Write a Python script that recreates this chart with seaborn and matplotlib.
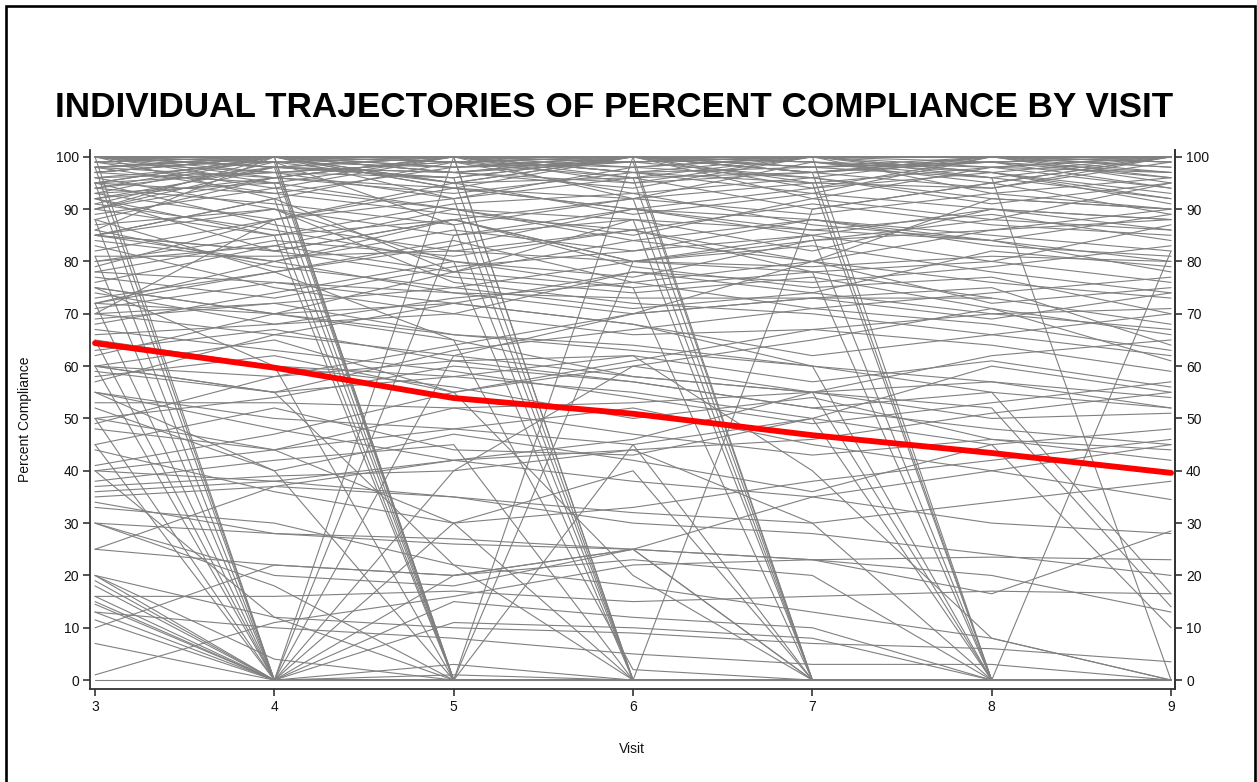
import numpy as np
import pandas as pd
import matplotlib
matplotlib.use("Agg")
import matplotlib.pyplot as plt
import seaborn as sns
from matplotlib.patches import Rectangle

nan = np.nan
visits = [3, 4, 5, 6, 7, 8, 9]

high_group = [
    [100, 100, 100, 100, 100, 100, 100],
    [99, 100, 98, 100, 97, 100, 99],
    [97, 100, 99, 98, 100, 96, 100],
    [100, 98, 100, 99, 96, 100, 95],
    [95, 100, 97, 100, 98, 99, 100],
    [98, 96, 100, 97, 100, 100, 98],
    [100, 99, 95, 100, 99, 97, 100],
    [93, 100, 100, 96, 100, 98, 97],
    [96, 97, 99, 100, 94, 100, 100],
    [100, 100, 98, 99, 100, 93, 96],
    [91, 99, 100, 95, 97, 100, 99],
    [99, 94, 100, 100, 98, 96, 92],
    [100, 97, 96, 100, 100, 99, 94],
    [94, 100, 92, 98, 100, 100, 97],
    [88, 96, 100, 97, 93, 100, 98],
    [97, 100, 94, 92, 99, 98, 100],
    [100, 92, 99, 100, 95, 94, 99],
    [92, 98, 97, 94, 100, 97, 93],
    [99, 100, 100, 98, 96, 92, 90],
    [86, 100, 95, 100, 97, 99, 100],
    [100, 100, 97, 95, 100, 100, 100],
    [98, 99, 100, 100, 99, 95, 89],
    [95, 93, 98, 99, 100, 100, 96],
    [100, 96, 93, 97, 98, 100, 100],
    [90, 100, 99, 93, 96, 91, 95],
    [97, 95, 100, 100, 92, 98, 94],
    [100, 100, 100, 99, 100, 97, 91],
    [94, 98, 96, 100, 100, 100, 99],
    [99, 97, 99, 96, 97, 94, 100],
    [100, 100, 94, 100, 98, 99, 97],
]

mid_high_group = [
    [90, 85, 88, 80, 84, 86, 88],
    [81, 81, 82, 80, 79, 81, 80],
    [85, 92, 78, 88, 82, 90, 86],
    [76, 83, 90, 85, 92, 88, 95],
    [88, 78, 84, 76, 80, 72, 75],
    [72, 80, 86, 82, 88, 85, 82],
    [83, 75, 70, 78, 74, 82, 79],
    [79, 88, 92, 96, 90, 95, 100],
    [95, 87, 82, 86, 78, 80, 76],
    [68, 74, 80, 77, 84, 88, 86],
    [87, 90, 76, 72, 70, 66, 62],
    [75, 70, 78, 84, 80, 76, 73],
    [92, 82, 88, 79, 75, 77, 70],
    [70, 72, 75, 71, 74, 70, 71],
    [84, 80, 74, 70, 73, 75, 64],
    [96, 90, 85, 88, 86, 84, 89],
    [78, 84, 81, 86, 80, 92, 90],
    [89, 94, 90, 84, 88, 83, 81],
    [73, 78, 83, 90, 94, 97, 92],
    [91, 86, 80, 75, 78, 73, 68],
    [82, 88, 94, 90, 86, 89, 84],
    [77, 73, 79, 82, 85, 80, 87],
    [94, 91, 87, 92, 89, 93, 90],
    [86, 79, 75, 80, 83, 78, 74],
    [71, 76, 72, 78, 76, 79, 83],
    [98, 93, 89, 86, 91, 87, 85],
    [80, 85, 91, 93, 87, 84, 78],
    [74, 68, 73, 76, 71, 74, 77],
    [93, 88, 95, 89, 93, 90, 88],
    [85, 82, 77, 74, 77, 71, 66],
    [78, 76, 74, 73, 73, 73, nan],
]

mid_group = [
    [66, 68, 70, 66, 67, 70, 67],
    [60, 58, 61, 62, 57, 61, 56],
    [53, 53, 52, 53, 55, 57, 54],
    [58, 62, 55, 60, 65, 71, 61],
    [50, 54, 60, 57, 52, 55, 52],
    [48, 44, 52, 47, 43, 46, 44],
    [62, 70, 65, 58, 55, 62, 65],
    [55, 48, 42, 46, 55, 50, 51],
    [45, 52, 44, 43, 50, 60, 55],
    [64, 60, 56, 50, 54, 46, 42],
    [57, 66, 72, 68, 62, 66, 70],
    [52, 40, 47, 42, 36, 45, 48],
    [69, 72, 66, 63, 60, 57, 52],
    [36, 38, 42, 44, 46, 51, 55],
    [41, 47, 55, 61, 67, 64, 59],
    [67, 63, 59, 54, 49, 53, 57],
    [44, 36, 30, 33, 38, 42, 46],
    [59, 55, 63, 67, 71, 68, 63],
    [63, 67, 61, 57, 52, 48, 45],
    [49, 58, 64, 70, 73, 69, 74],
    [40, 44, 48, 52, 45, 40, 34.5],
]

low_group = [
    [35, 37, 35, 30, 28, 24, 20],
    [34, 28, 27, 25, 23, 23.5, 23],
    [16, 16, 17, 15, 16, 17, 16.5],
    [25, 37, 42, 38, 35, 30, 28],
    [1, 11, 16, 22, 23, 16.5, 28.5],
    [0, 0, 0, 0, 0, 0, 0],
    [33, 30, 22, 18, 13, 8, 0],
    [37, 39, 40, 44, 30, 34, 38],
    [20, 12, 10, 9, 7, 6, 3.5],
    [13, 10, 8, 5, 3, 3, 0],
    [30, 20, 18, 25, 23, 20, 13],
    [10, 22, 20, 25, 35, 40, 45],
]

drop_group = [
    [20, 0, 0, 0, 0, 0, 0],
    [19, 0, 0, 0, 0, 0, 0],
    [18, 0, 11, 10, 8, 0, 0],
    [16, 0, 0, 0, 0, 0, 0],
    [15, 0, 0, 0, 0, 0, 0],
    [14.5, 0, 0, 0, 0, 0, 0],
    [13, 0, 3, 0, 0, 0, 0],
    [11.5, 0, 0, 0, 0, 0, 0],
    [7, 0, 1, 0, 0, 0, 0],
    [100, 0, 0, 0, 0, 0, 0],
    [95, 0, 20, 25, 0, 0, 0],
    [88, 0, 40, 60, 55, 0, 0],
    [72, 0, 100, 92, 95, 98, 100],
    [65, 0, 62, 70, 80, 86, 90],
    [50, 0, 0, 0, 0, 0, 0],
    [45, 0, 15, 12, 10, 0, 0],
    [98, 0, 85, 90, 88, 84, 80],
    [81, 0, 0, 0, 0, 0, 0],
    [60, 0, 30, 40, 0, 0, 0],
    [96, 99, 0, 0, 0, 0, 0],
    [100, 95, 0, 0, 0, 0, 0],
    [90, 98, 0, 100, 97, 99, 96],
    [85, 92, 0, 0, 0, 0, 0],
    [70, 88, 0, 0, 0, 0, 0],
    [100, 100, 0, 0, 0, 0, 0],
    [92, 85, 0, 45, 50, 0, 0],
    [75, 60, 0, 0, 0, 0, 0],
    [55, 40, 0, 0, 0, 0, 0],
    [30, 18, 0, 0, 0, 0, 0],
    [40, 12, 0, 0, 0, 0, 0],
    [20, 4, 0, 0, 0, 0, 0],
    [97, 100, 0, 80, 85, 90, 88],
    [98, 100, 100, 0, 0, 0, 0],
    [95, 97, 92, 0, 0, 0, 0],
    [100, 99, 87, 0, 0, 0, 0],
    [85, 90, 80, 0, 0, 0, 0],
    [72, 78, 65, 2, 0, 0, 0],
    [50, 44, 30, 0, 0, 0, 0],
    [60, 55, 22, 0, 0, 0, 0],
    [90, 96, 100, 0, 90, 95, 100],
    [100, 98, 96, 0, 0, 0, 0],
    [38, 42, 45, 0, 0, 0, 0],
    [100, 99, 98, 100, 0, 0, 0],
    [93, 95, 90, 88, 0, 0, 0],
    [97, 100, 95, 96, 0, 0, 0],
    [80, 83, 78, 75, 0, 0, 0],
    [55, 50, 48, 45, 0, 0, 0],
    [30, 28, 26, 25, 0, 0, 0],
    [85, 80, 88, 92, 0, 0, 0],
    [98, 100, 100, 99, 0, 0, 0],
    [60, 65, 55, 20, 0, 0, 0],
    [100, 98, 100, 97, 95, 0, 0],
    [92, 96, 94, 90, 85, 0, 0],
    [75, 70, 72, 68, 60, 0, 0],
    [40, 38, 35, 32, 30, 0, 0],
    [25, 22, 20, 23, 20, 0, 0],
    [95, 100, 97, 99, 100, 0, 82],
    [98, 100, 99, 100, 97, 0, 0],
    [85, 82, 88, 80, 78, 0, 0],
    [60, 55, 58, 62, 40, 8, 0],
    [65, 60, 58, 55, 50, 45, 10],
    [70, 66, 62, 58, 55, 52, 14],
    [72, 70, 66, 64, 60, 55, 16.5],
    [100, 98, 97, 100, 99, 96, 0],
]

mean_trend = [64.4, 59.7, 53.9, 50.9, 46.8, 43.4, 39.6]

title_text = "INDIVIDUAL TRAJECTORIES OF PERCENT COMPLIANCE BY VISIT"
x_label = "Visit"
y_label = "Percent Compliance"
y_ticks = list(range(0, 101, 10))

# ---- build long table ----
rows = []
sid = 0
for grp in [high_group, mid_high_group, mid_group, low_group, drop_group]:
    for traj in grp:
        sid += 1
        for v, val in zip(visits, traj):
            rows.append({"subject": sid, "visit": v, "pct": val})
df = pd.DataFrame(rows).dropna()
mean_df = pd.DataFrame({"visit": visits, "pct": mean_trend})

sns.set_theme(style="white")
plt.rcParams["font.family"] = ["Liberation Sans", "DejaVu Sans"]

W, H = 1257, 782
fig = plt.figure(figsize=(W / 100, H / 100), dpi=100)
fig.patch.set_facecolor("white")
ax = fig.add_axes([90 / W, 1 - 689 / H, (1175 - 90) / W, (689 - 150) / H])

sns.lineplot(data=df, x="visit", y="pct", units="subject", estimator=None,
             color="#808080", linewidth=0.8, ax=ax, legend=False, sort=False)
sns.lineplot(data=mean_df, x="visit", y="pct", color="#ff0000",
             linewidth=4.2, ax=ax, legend=False)

ylim = (-1.7, 101.3)
ax.set_xlim(2.972, 9.022)
ax.set_ylim(*ylim)
ax.set_xticks(visits)
ax.set_xticklabels([str(v) for v in visits])
ax.set_yticks(y_ticks)
ax.set_xlabel("")
ax.set_ylabel("")
ax.spines["top"].set_visible(False)
for s in ["left", "bottom", "right"]:
    ax.spines[s].set_color("#333333")
    ax.spines[s].set_linewidth(1.3)
ax.tick_params(axis="both", which="major", direction="out", length=5, width=1.2,
               color="#333333", labelsize=10, labelcolor="#111111", pad=3,
               left=True, bottom=True)

ax2 = ax.twinx()
ax2.set_ylim(*ylim)
ax2.set_yticks(y_ticks)
ax2.spines["top"].set_visible(False)
ax2.spines["left"].set_visible(False)
ax2.spines["bottom"].set_visible(False)
ax2.spines["right"].set_color("#333333")
ax2.spines["right"].set_linewidth(1.3)
ax2.tick_params(axis="y", direction="out", length=5, width=1.2, color="#333333",
                labelsize=10, labelcolor="#111111", pad=3, right=True)
ax2.grid(False)
ax.grid(False)

fig.text(632 / W, 1 - 749 / H, x_label, ha="center", va="center", fontsize=10, color="#111111")
fig.text(25 / W, 1 - 419 / H, y_label, ha="center", va="center", rotation=90,
         fontsize=10, color="#111111")
fig.text(55 / W, 1 - 117 / H, title_text, ha="left", va="baseline",
         fontsize=25.3, fontweight="bold", color="black")

border = Rectangle((6 / W, -0.05), (1255 - 6) / W, (1 - 6 / H) + 0.05,
                   transform=fig.transFigure, fill=False, edgecolor="black",
                   linewidth=1.9, clip_on=False)
fig.patches.append(border)

fig.savefig("out.png", dpi=100, facecolor="white")
